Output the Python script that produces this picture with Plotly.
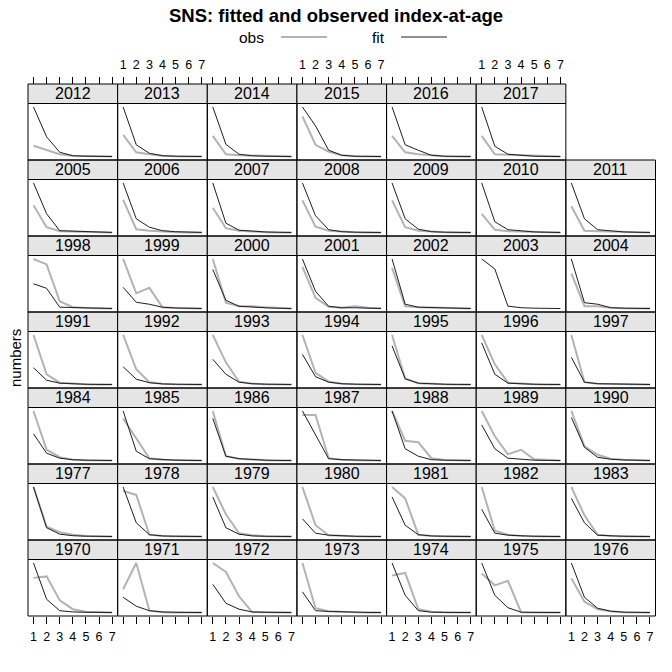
import plotly.graph_objects as go

# ---------------- data (relative index, free y-scale per panel) ----------------
years = list(range(1970, 2018))
ages = [1, 2, 3, 4, 5, 6, 7]
age_labels = ["1", "2", "3", "4", "5", "6", "7"]

fit = [
    [100, 27, 4, 1.5, 0.8, 0.5, 0.3],   # 1970
    [31, 13, 4, 1.5, 0.8, 0.5, 0.3],    # 1971
    [57, 19, 7, 1.5, 0.8, 0.5, 0.3],    # 1972
    [42, 4, 2.5, 1.5, 0.8, 0.5, 0.3],   # 1973
    [100, 35, 4, 1, 0.6, 0.4, 0.3],     # 1974
    [100, 35, 10, 1, 0.6, 0.4, 0.3],    # 1975
    [100, 31, 9, 3, 1, 0.5, 0.3],       # 1976
    [100, 18, 5, 2, 1, 0.5, 0.3],       # 1977
    [100, 28, 4, 1.5, 0.8, 0.5, 0.3],   # 1978
    [80, 18, 5, 1.5, 0.8, 0.5, 0.3],    # 1979
    [36, 7, 3, 1.5, 0.8, 0.5, 0.3],     # 1980
    [80, 23, 4, 1.5, 0.8, 0.5, 0.3],    # 1981
    [55, 7, 3, 1.5, 0.8, 0.5, 0.3],     # 1982
    [77, 28, 3, 1.5, 0.8, 0.5, 0.3],    # 1983
    [54, 15, 5, 2, 1, 0.5, 0.3],        # 1984
    [100, 19, 4, 2, 1, 0.5, 0.3],       # 1985
    [85, 9, 4, 2, 1, 0.5, 0.3],         # 1986
    [100, 52, 4, 2, 1, 0.5, 0.3],       # 1987
    [100, 24, 9, 2, 1, 0.5, 0.3],       # 1988
    [72, 24, 5, 3, 1, 0.5, 0.3],        # 1989
    [87, 27, 7, 3, 1.5, 0.8, 0.4],      # 1990
    [34, 9, 3, 1.5, 0.8, 0.5, 0.3],     # 1991
    [36, 11, 4, 1.5, 0.8, 0.5, 0.3],    # 1992
    [51, 21, 5, 2, 1, 0.5, 0.3],        # 1993
    [61, 16, 5, 2, 1, 0.5, 0.3],        # 1994
    [78, 12, 3, 1.5, 0.8, 0.5, 0.3],    # 1995
    [84, 21, 3, 1.5, 0.8, 0.5, 0.3],    # 1996
    [55, 5, 2, 1.5, 0.8, 0.5, 0.3],     # 1997
    [50, 41, 3, 2, 1, 0.5, 0.3],        # 1998
    [43, 13, 9, 3, 1.5, 0.8, 0.4],      # 1999
    [79, 17, 5, 3, 2, 1, 0.5],          # 2000
    [100, 35, 5, 2, 2, 1, 0.5],         # 2001
    [100, 9, 3, 2, 1, 0.5, 0.3],        # 2002
    [100, 80, 5, 2, 1, 0.5, 0.3],       # 2003
    [100, 12, 9, 2, 1, 0.5, 0.3],       # 2004
    [100, 38, 4, 3, 2, 1, 0.5],         # 2005
    [100, 28, 11, 4, 2, 1, 0.5],        # 2006
    [100, 19, 5, 3, 1.5, 0.8, 0.4],     # 2007
    [100, 34, 6, 2, 1, 0.5, 0.3],       # 2008
    [100, 28, 7, 2, 1, 0.5, 0.3],       # 2009
    [100, 22, 6, 3, 1.5, 0.8, 0.4],     # 2010
    [100, 28, 6, 3, 1.5, 0.8, 0.4],     # 2011
    [100, 40, 9, 2, 1, 0.6, 0.4],       # 2012
    [100, 24, 7, 2, 1, 0.6, 0.4],       # 2013
    [100, 25, 5, 2, 1, 0.6, 0.4],       # 2014
    [100, 62, 13, 3, 1, 0.6, 0.4],      # 2015
    [100, 24, 13, 3, 1, 0.6, 0.4],      # 2016
    [100, 21, 5, 3, 1, 0.6, 0.4],       # 2017
]

obs = [
    [70, 73, 25, 7, 2, 1, 0.5],         # 1970
    [47, 100, 4, 1, 0.6, 0.4, 0.3],     # 1971
    [100, 82, 33, 1.5, 1, 0.6, 0.4],    # 1972
    [100, 9, 3, 1.5, 0.8, 0.5, 0.3],    # 1973
    [75, 80, 7, 2, 1, 0.6, 0.4],        # 1974
    [79, 55, 64, 1, 0.6, 0.4, 0.3],     # 1975
    [69, 22, 7, 3, 1, 0.5, 0.3],        # 1976
    [100, 20, 9, 4, 1.5, 0.8, 0.4],     # 1977
    [92, 84, 4, 1.5, 0.8, 0.5, 0.3],    # 1978
    [100, 45, 7, 3, 1, 0.5, 0.3],       # 1979
    [100, 23, 3, 1.5, 0.8, 0.5, 0.3],   # 1980
    [100, 77, 4, 1.5, 0.8, 0.5, 0.3],   # 1981
    [100, 12, 4, 1.5, 0.8, 0.5, 0.3],   # 1982
    [100, 43, 4, 1.5, 0.8, 0.5, 0.3],   # 1983
    [100, 22, 7, 2, 1, 0.5, 0.3],       # 1984
    [85, 45, 5, 2, 1, 0.5, 0.3],        # 1985
    [100, 9, 4, 2, 1, 0.5, 0.3],        # 1986
    [92, 92, 5, 2, 1, 0.5, 0.3],        # 1987
    [100, 40, 37, 5, 1.5, 0.8, 0.4],    # 1988
    [100, 49, 13, 22, 3, 1, 0.5],       # 1989
    [100, 29, 12, 4, 2, 1, 0.5],        # 1990
    [100, 21, 4, 2, 1, 0.5, 0.3],       # 1991
    [100, 31, 5, 2, 1, 0.5, 0.3],       # 1992
    [100, 45, 6, 2, 1, 0.5, 0.3],       # 1993
    [100, 24, 6, 2, 1, 0.5, 0.3],       # 1994
    [100, 12, 3, 1.5, 0.8, 0.5, 0.3],   # 1995
    [100, 41, 4, 2, 1, 0.5, 0.3],       # 1996
    [100, 5, 2, 1.5, 0.8, 0.5, 0.3],    # 1997
    [100, 89, 15, 3, 1.5, 0.8, 0.4],    # 1998
    [100, 31, 42, 3, 1.5, 0.8, 0.4],    # 1999
    [100, 12, 5, 5, 3, 1.5, 0.8],       # 2000
    [84, 22, 4, 2, 5, 2, 1],            # 2001
    [82, 5, 3, 2, 1, 0.5, 0.3],         # 2002
    [None, None, None, None, None, None, None],  # 2003 (no survey)
    [71, 5, 5, 2, 1, 0.5, 0.3],         # 2004
    [55, 11, 3, 2, 1, 0.5, 0.3],        # 2005
    [66, 7, 4, 2, 1, 0.5, 0.3],         # 2006
    [50, 9, 4, 2, 1, 0.5, 0.3],         # 2007
    [65, 12, 4, 2, 1, 0.5, 0.3],        # 2008
    [65, 11, 4, 2, 1, 0.5, 0.3],        # 2009
    [38, 6, 3, 2, 1, 0.5, 0.3],         # 2010
    [53, 4, 3, 2, 1, 0.5, 0.3],         # 2011
    [22, 13, 5, 2, 1, 0.6, 0.4],        # 2012
    [44, 9, 5, 2, 1, 0.6, 0.4],         # 2013
    [42, 5, 3, 2, 1, 0.6, 0.4],         # 2014
    [81, 24, 10, 3, 1, 0.6, 0.4],       # 2015
    [42, 9, 5, 3, 1, 0.6, 0.4],         # 2016
    [42, 5, 4, 3, 1, 0.6, 0.4],         # 2017
]

# ---------------- layout geometry ----------------
W = H = 672
X0, X1 = 28.0, 655.5
TOP, BOT = 84.0, 616.0
NCOL = NROW = 7
CW = (X1 - X0) / NCOL
RH = (BOT - TOP) / NROW
STRIP = 19.5
OBS_COL = "#b3b3b3"
FIT_COL = "#1e1e1e"
FONT = "Liberation Sans, Arial, sans-serif"


def px(x):
    return x / W


def py(y):
    return 1 - y / H


fig = go.Figure()
lay = {}
shapes = []
annotations = []

for i, yr in enumerate(years):
    b = i // NCOL
    c = i % NCOL
    r = NROW - 1 - b
    left = X0 + c * CW
    right = left + CW
    stop = TOP + r * RH
    sbot = stop + STRIP
    pbot = stop + RH
    n = i + 1
    xname = "x" if n == 1 else f"x{n}"
    yname = "y" if n == 1 else f"y{n}"
    xkey = "xaxis" if n == 1 else f"xaxis{n}"
    ykey = "yaxis" if n == 1 else f"yaxis{n}"

    vals = [v for v in obs[i] + fit[i] if v is not None]
    lo, hi = min(vals), max(vals)
    pad = 0.07 * (hi - lo)

    xa = dict(
        domain=[px(left), px(right)], range=[0.58, 7.42],
        showgrid=False, zeroline=False, showline=False,
        tickmode="array", tickvals=ages, ticktext=age_labels,
        ticks="", showticklabels=False, fixedrange=True,
        tickfont=dict(family=FONT, size=12.5, color="#000"),
        tickcolor="#000", ticklen=7, tickwidth=1,
        anchor=yname,
    )
    if b == 0:
        xa.update(ticks="outside", side="bottom", showticklabels=(c % 2 == 0),
                  ticklabelstandoff=2)
    if b == NROW - 1:
        xa.update(ticks="outside", side="top", anchor="free",
                  position=py(TOP), showticklabels=(c % 2 == 1),
                  ticklabelstandoff=3)
    lay[xkey] = xa
    lay[ykey] = dict(
        domain=[py(pbot), py(sbot)], range=[lo - pad, hi + pad],
        showgrid=False, zeroline=False, showline=False, ticks="",
        showticklabels=False, fixedrange=True, anchor=xname,
    )

    fig.add_trace(go.Scatter(x=ages, y=obs[i], mode="lines",
                             line=dict(color=OBS_COL, width=2),
                             xaxis=xname, yaxis=yname, showlegend=False,
                             hoverinfo="skip"))
    fig.add_trace(go.Scatter(x=ages, y=fit[i], mode="lines",
                             line=dict(color=FIT_COL, width=1),
                             xaxis=xname, yaxis=yname, showlegend=False,
                             hoverinfo="skip"))

    # strip
    shapes.append(dict(type="rect", xref="paper", yref="paper",
                       x0=px(left), x1=px(right), y0=py(sbot), y1=py(stop),
                       fillcolor="#e5e5e5", line=dict(color="#000", width=1),
                       layer="below"))
    # panel border
    shapes.append(dict(type="rect", xref="paper", yref="paper",
                       x0=px(left), x1=px(right), y0=py(pbot), y1=py(sbot),
                       line=dict(color="#000", width=1), layer="above"))
    annotations.append(dict(text=str(yr), xref="paper", yref="paper",
                            x=px((left + right) / 2), y=py((stop + sbot) / 2),
                            xanchor="center", yanchor="middle", showarrow=False,
                            font=dict(family=FONT, size=16, color="#000")))

# title, legend keys, y label
annotations.append(dict(text="<b>SNS: fitted and observed index-at-age</b>",
                        xref="paper", yref="paper", x=px(336), y=py(15),
                        xanchor="center", yanchor="middle", showarrow=False,
                        font=dict(family=FONT, size=18.5, color="#000")))
annotations.append(dict(text="obs", xref="paper", yref="paper", x=px(251), y=py(37),
                        xanchor="center", yanchor="middle", showarrow=False,
                        font=dict(family=FONT, size=15.5, color="#000")))
annotations.append(dict(text="fit", xref="paper", yref="paper", x=px(378), y=py(37),
                        xanchor="center", yanchor="middle", showarrow=False,
                        font=dict(family=FONT, size=15.5, color="#000")))
shapes.append(dict(type="line", xref="paper", yref="paper",
                   x0=px(281), x1=px(327), y0=py(37), y1=py(37),
                   line=dict(color=OBS_COL, width=2)))
shapes.append(dict(type="line", xref="paper", yref="paper",
                   x0=px(401), x1=px(447), y0=py(37), y1=py(37),
                   line=dict(color=FIT_COL, width=1)))
annotations.append(dict(text="numbers", xref="paper", yref="paper", x=px(15), y=py(358),
                        xanchor="center", yanchor="middle", showarrow=False,
                        textangle=-90,
                        font=dict(family=FONT, size=15, color="#000")))

fig.update_layout(
    width=W, height=H, margin=dict(l=0, r=0, t=0, b=0),
    paper_bgcolor="white", plot_bgcolor="white",
    showlegend=False, shapes=shapes, annotations=annotations,
    font=dict(family=FONT, color="#000"),
    **lay,
)

fig.write_html("out.html")
